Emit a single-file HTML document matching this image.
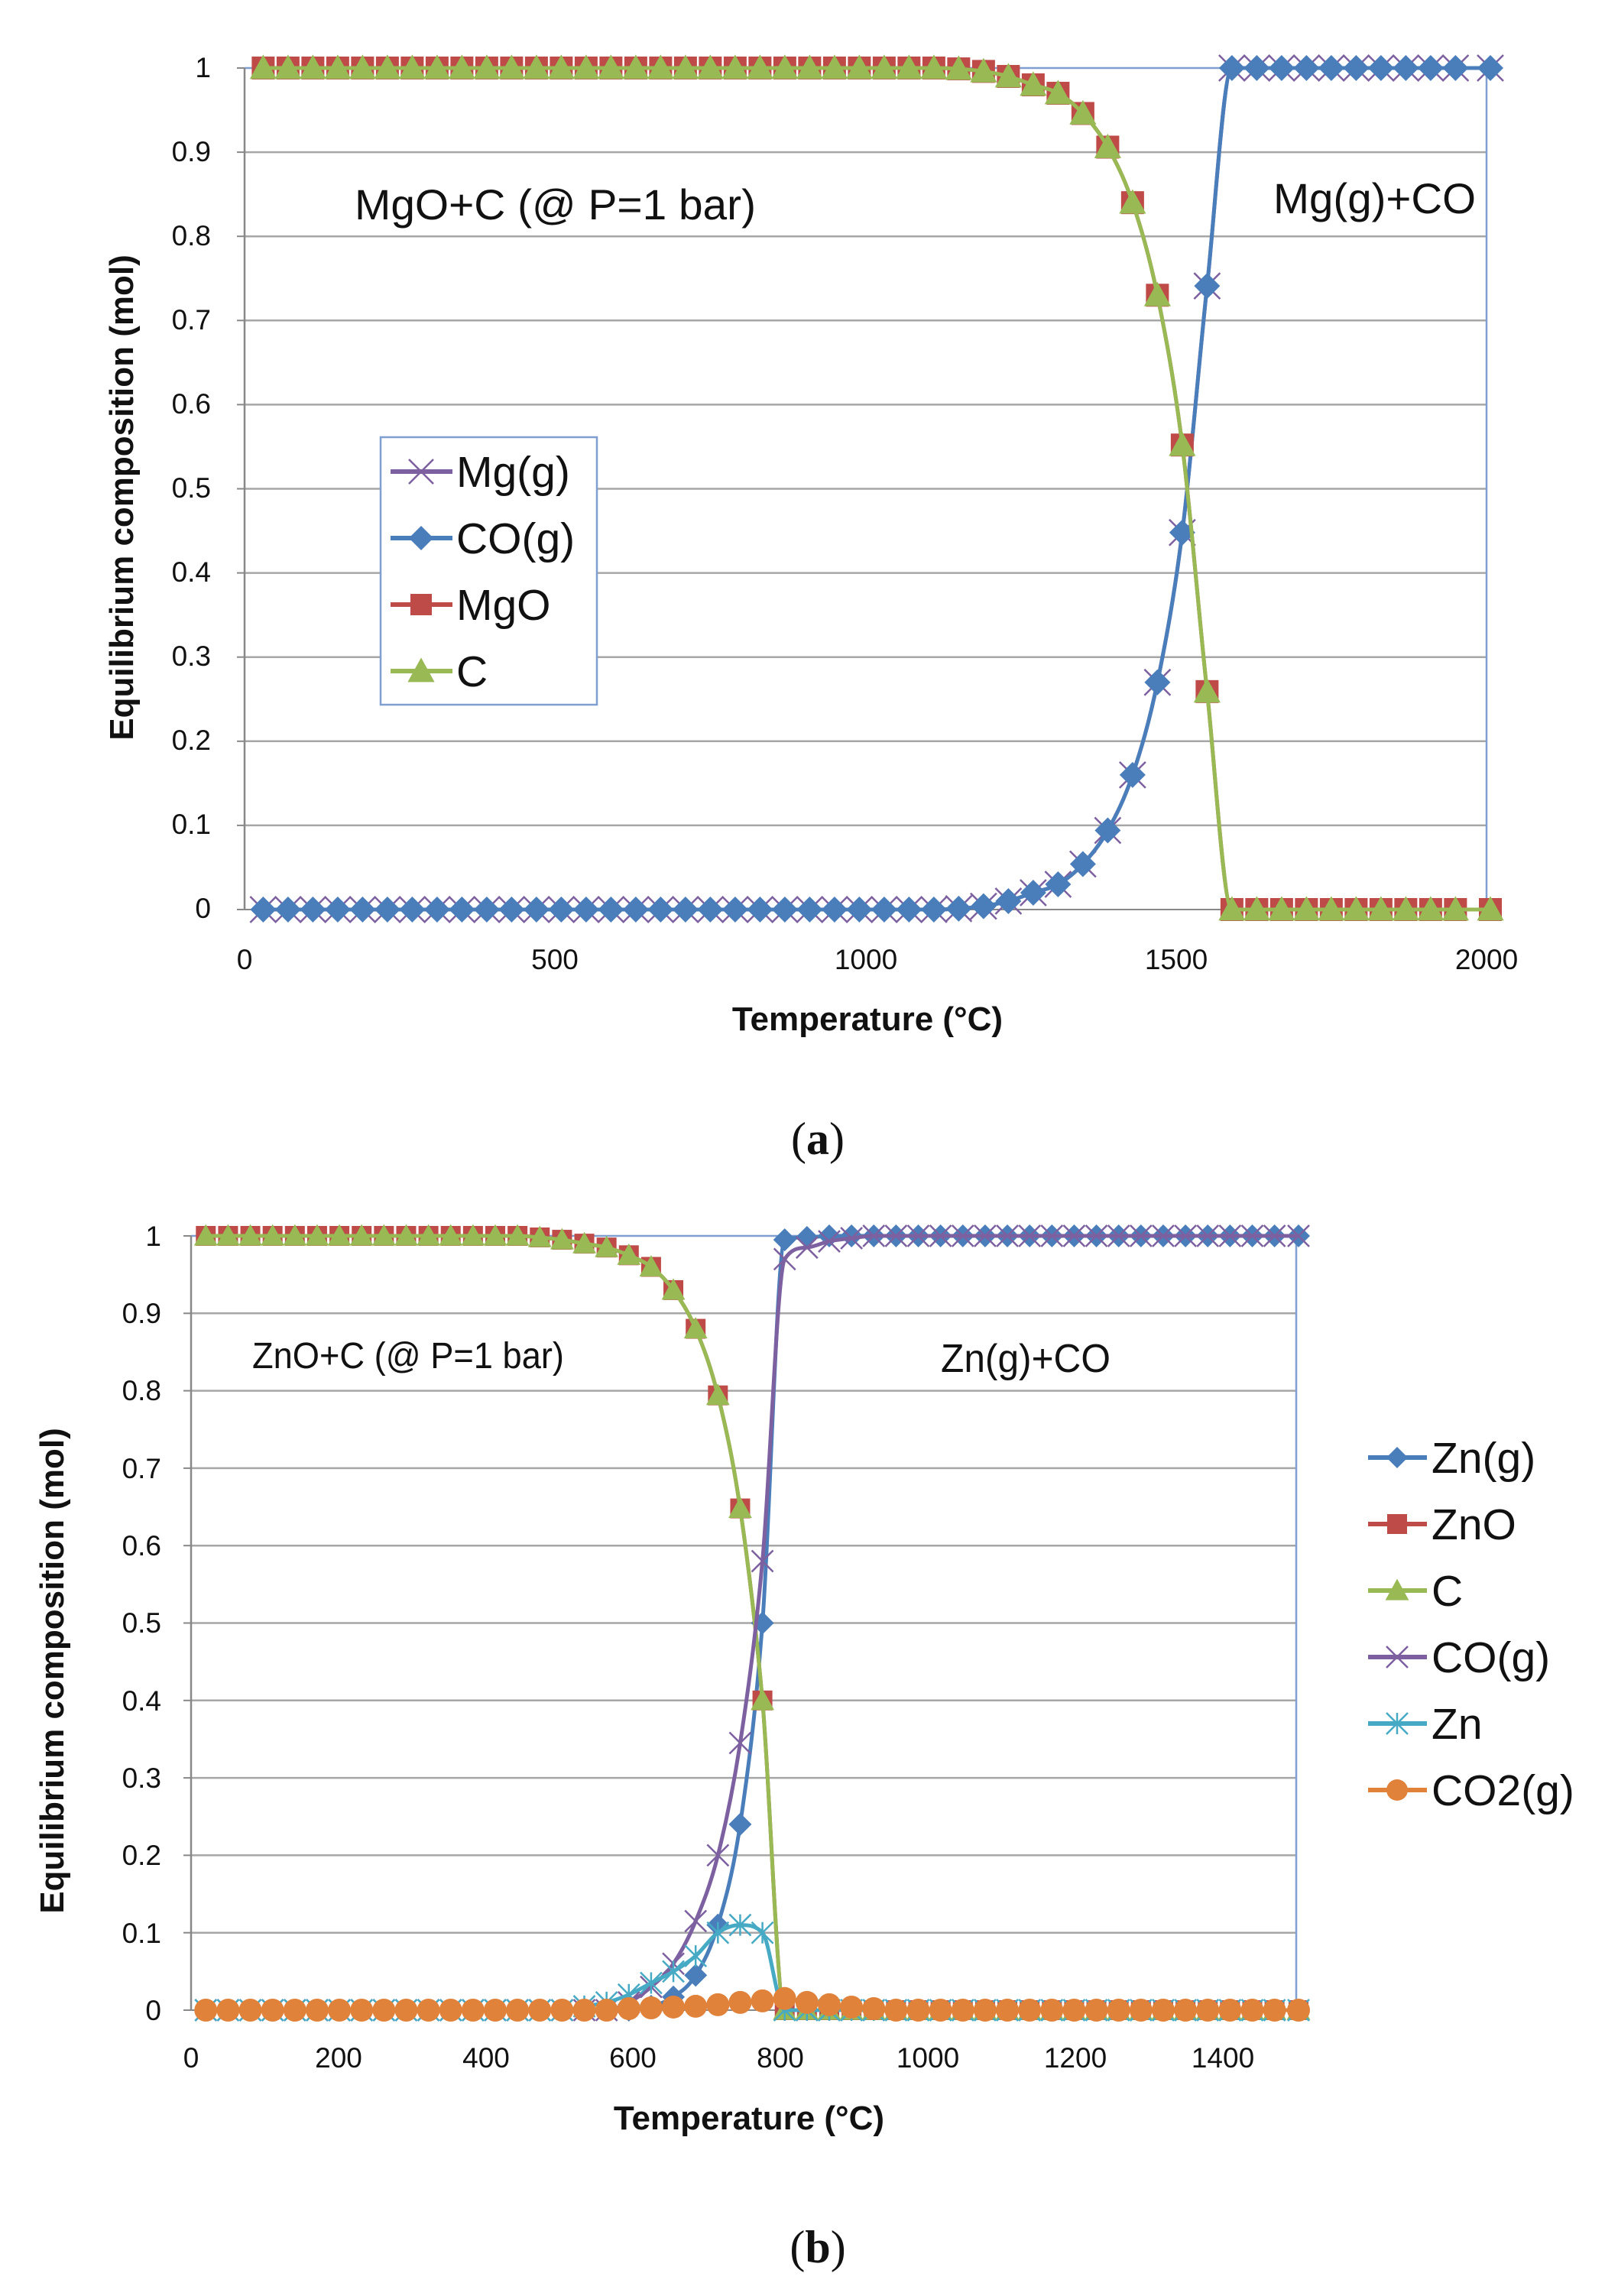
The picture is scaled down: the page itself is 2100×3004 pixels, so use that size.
<!DOCTYPE html>
<html><head><meta charset="utf-8">
<style>
html,body{margin:0;padding:0;background:#fff;}
svg{display:block;}
text{font-family:"Liberation Sans",sans-serif;fill:#111;}
.tk{font-size:37px;}
.ttl{font-size:44px;font-weight:bold;}
.lg{font-size:57px;}
.cap{font-family:"Liberation Serif",serif;font-size:60px;}
</style></head>
<body>
<svg id="s" width="2100" height="3004" viewBox="0 0 2100 3004" xmlns="http://www.w3.org/2000/svg">
<g id="ga"></g>
<g id="gb"></g>
<g class="tk" text-anchor="end">
<text x="276" y="101">1</text><text x="276" y="211">0.9</text><text x="276" y="321">0.8</text><text x="276" y="431">0.7</text><text x="276" y="541">0.6</text><text x="276" y="651">0.5</text><text x="276" y="761">0.4</text><text x="276" y="871">0.3</text><text x="276" y="981">0.2</text><text x="276" y="1091">0.1</text><text x="276" y="1201">0</text>
</g>
<g class="tk" text-anchor="middle">
<text x="320" y="1268">0</text><text x="726" y="1268">500</text><text x="1133" y="1268">1000</text><text x="1539" y="1268">1500</text><text x="1945" y="1268">2000</text>
</g>
<text class="ttl" x="1135" y="1348" text-anchor="middle">Temperature (°C)</text>
<text class="ttl" transform="translate(174,651) rotate(-90)" text-anchor="middle">Equilibrium composition (mol)</text>
<text x="464" y="287" font-size="56" textLength="525" lengthAdjust="spacingAndGlyphs">MgO+C (@ P=1 bar)</text>
<text x="1666" y="279" font-size="56" textLength="265" lengthAdjust="spacingAndGlyphs">Mg(g)+CO</text>
<text class="cap" x="1070" y="1510" text-anchor="middle">(<tspan font-weight="bold">a</tspan>)</text>
<g class="tk" text-anchor="end">
<text x="211" y="1630">1</text><text x="211" y="1731">0.9</text><text x="211" y="1832">0.8</text><text x="211" y="1934">0.7</text><text x="211" y="2035">0.6</text><text x="211" y="2136">0.5</text><text x="211" y="2238">0.4</text><text x="211" y="2339">0.3</text><text x="211" y="2440">0.2</text><text x="211" y="2542">0.1</text><text x="211" y="2643">0</text>
</g>
<g class="tk" text-anchor="middle">
<text x="250" y="2705">0</text><text x="443" y="2705">200</text><text x="636" y="2705">400</text><text x="828" y="2705">600</text><text x="1021" y="2705">800</text><text x="1214" y="2705">1000</text><text x="1407" y="2705">1200</text><text x="1600" y="2705">1400</text>
</g>
<text class="ttl" x="980" y="2786" text-anchor="middle">Temperature (°C)</text>
<text class="ttl" transform="translate(83,2186) rotate(-90)" text-anchor="middle">Equilibrium composition (mol)</text>
<text x="330" y="1790" font-size="48" textLength="408" lengthAdjust="spacingAndGlyphs">ZnO+C (@ P=1 bar)</text>
<text x="1231" y="1795" font-size="52" textLength="222" lengthAdjust="spacingAndGlyphs">Zn(g)+CO</text>
<text class="cap" x="1070" y="2960" text-anchor="middle">(<tspan font-weight="bold">b</tspan>)</text>
</svg>
<script>
var NS="http://www.w3.org/2000/svg";
function el(p,n,a){var e=document.createElementNS(NS,n);for(var k in a)e.setAttribute(k,a[k]);p.appendChild(e);return e;}
function spline(p){var n=p.length,d=[],m=[];for(var i=0;i<n-1;i++)d.push((p[i+1][1]-p[i][1])/(p[i+1][0]-p[i][0]));
 m[0]=d[0];m[n-1]=d[n-2];for(i=1;i<n-1;i++){if(d[i-1]*d[i]<=0)m[i]=0;else m[i]=(d[i-1]+d[i])/2;}
 for(i=0;i<n-1;i++){if(d[i]==0){m[i]=0;m[i+1]=0;continue;}var a=m[i]/d[i],b=m[i+1]/d[i],s=a*a+b*b;if(s>9){var t=3/Math.sqrt(s);m[i]=t*a*d[i];m[i+1]=t*b*d[i];}}
 var s="M"+p[0][0]+","+p[0][1];for(i=0;i<n-1;i++){var h=(p[i+1][0]-p[i][0])/3;s+=" C"+(p[i][0]+h)+","+(p[i][1]+m[i]*h)+" "+(p[i+1][0]-h)+","+(p[i+1][1]-m[i+1]*h)+" "+p[i+1][0]+","+p[i+1][1];}return s;}
function marker(g,type,x,y,c,s){
 if(type=="d")el(g,"polygon",{points:[x,y-s,x+s,y,x,y+s,x-s,y].join(","),fill:c});
 else if(type=="s")el(g,"rect",{x:x-s,y:y-s,width:2*s,height:2*s,fill:c});
 else if(type=="t")el(g,"polygon",{points:[x,y-s*1.1,x+s*1.1,y+s*0.9,x-s*1.1,y+s*0.9].join(","),fill:c});
 else if(type=="c")el(g,"circle",{cx:x,cy:y,r:s,fill:c});
 else if(type=="x"){el(g,"path",{d:"M"+(x-s)+","+(y-s)+"L"+(x+s)+","+(y+s)+"M"+(x+s)+","+(y-s)+"L"+(x-s)+","+(y+s),stroke:c,"stroke-width":2.5,fill:"none"});}
 else if(type=="a"){el(g,"path",{d:"M"+(x-s)+","+(y-s)+"L"+(x+s)+","+(y+s)+"M"+(x+s)+","+(y-s)+"L"+(x-s)+","+(y+s)+"M"+x+","+(y-s)+"L"+x+","+(y+s),stroke:c,"stroke-width":2.5,fill:"none"});}
}
function series(g,pts,c,type,s){el(g,"path",{d:spline(pts),stroke:c,"stroke-width":5,fill:"none","stroke-linejoin":"round"});pts.forEach(function(p){marker(g,type,p[0],p[1],c,s);});}
function frame(g,L,R,T,B,n){
 for(var i=1;i<n;i++){var y=B-(B-T)*i/n;el(g,"line",{x1:L,x2:R,y1:y,y2:y,stroke:"#a6a6a6","stroke-width":2.5});el(g,"line",{x1:L-10,x2:L,y1:y,y2:y,stroke:"#888","stroke-width":2});}
 el(g,"line",{x1:L-10,x2:L,y1:T,y2:T,stroke:"#888","stroke-width":2});
 el(g,"line",{x1:L-10,x2:R,y1:B,y2:B,stroke:"#888","stroke-width":2});
 el(g,"path",{d:"M"+L+","+T+"L"+R+","+T+"L"+R+","+B,stroke:"#7f9fd0","stroke-width":2.5,fill:"none"});
 el(g,"line",{x1:L,x2:L,y1:T,y2:B,stroke:"#888","stroke-width":2.5});
}
var BL="#4a7ebb",RD="#be4b48",GR="#98b954",PU="#7d60a0",TE="#46aac5",OR="#e0823a";
(function(){var g=document.getElementById("ga");var L=320,R=1945,T=89,B=1190;frame(g,L,R,T,B,10);
 var mg={1190:0.996,1230:0.99,1270:0.98,1310:0.97,1350:0.946,1390:0.906,1430:0.84,1470:0.73,1510:0.552,1550:0.259};
 var ptsM=[],ptsC=[];for(var k=0;k<50;k++){var t=30+40*k;var v=t<1190?1:(t>=1590?0:mg[t]);if(t==1150)v=0.999;
  var x=L+(t)*(R-L)/2000;if(k==49)x=R+5;ptsM.push([x,B-v*(B-T)]);ptsC.push([x,B-(1-v)*(B-T)]);}
 series(g,ptsC,PU,"x",17);series(g,ptsC,BL,"d",17);series(g,ptsM,RD,"s",15);series(g,ptsM,GR,"t",16);
 el(g,"rect",{x:498,y:572,width:283,height:350,fill:"#fff",stroke:"#7f9fd0","stroke-width":2.5});
 var it=[["Mg(g)",PU,"x"],["CO(g)",BL,"d"],["MgO",RD,"s"],["C",GR,"t"]];
 it.forEach(function(a,i){var y=617+i*87;el(g,"line",{x1:511,x2:592,y1:y,y2:y,stroke:a[1],"stroke-width":6});marker(g,a[2],551,y,a[1],a[2]=="s"?14:16);
  var tx=el(g,"text",{x:597,y:y+20,"class":"lg"});tx.textContent=a[0];});
})();
(function(){var g=document.getElementById("gb");var L=250,R=1696,T=1617,B=2630;frame(g,L,R,T,B,10);
 var H=B-T;function X(k){return k==49?R+3:L+(20+30.22*k)*(R-L)/1500;}
 var zno={15:0.998,16:0.995,17:0.99,18:0.985,19:0.975,20:0.96,21:0.93,22:0.88,23:0.794,24:0.648,25:0.40};
 var zng={20:0.005,21:0.017,22:0.045,23:0.11,24:0.24,25:0.50,26:0.995,27:0.998};
 var co={19:0.01,20:0.03,21:0.06,22:0.115,23:0.20,24:0.345,25:0.58,26:0.97,27:0.985,28:0.993,29:0.997};
 var zn={17:0.005,18:0.01,19:0.02,20:0.035,21:0.05,22:0.07,23:0.10,24:0.11,25:0.10};
 var co2={19:0.002,20:0.003,21:0.004,22:0.005,23:0.007,24:0.01,25:0.012,26:0.015,27:0.01,28:0.007,29:0.004,30:0.002};
 function arr(m,lo,hi,dl,dh){var p=[];for(var k=0;k<50;k++){var v=m[k]!=null?m[k]:(k<lo?dl:dh);p.push([X(k),B-v*H]);}return p;}
 var pZnO=arr(zno,15,26,1,0),pZng=arr(zng,20,28,0,1),pCO=arr(co,19,30,0,1),pZn=arr(zn,17,26,0,0),pCO2=arr(co2,19,30,0,0);
 series(g,pZng,BL,"d",15);series(g,pZnO,RD,"s",13);series(g,pZnO,GR,"t",14);series(g,pCO,PU,"x",14);series(g,pZn,TE,"a",14);series(g,pCO2,OR,"c",15);
 var it=[["Zn(g)",BL,"d"],["ZnO",RD,"s"],["C",GR,"t"],["CO(g)",PU,"x"],["Zn",TE,"a"],["CO2(g)",OR,"c"]];
 it.forEach(function(a,i){var y=1907+i*87;el(g,"line",{x1:1790,x2:1867,y1:y,y2:y,stroke:a[1],"stroke-width":6});marker(g,a[2],1828,y,a[1],a[2]=="s"?13:14);
  var tx=el(g,"text",{x:1873,y:y+20,"class":"lg"});tx.textContent=a[0];});
})();
</script>
</body></html>
